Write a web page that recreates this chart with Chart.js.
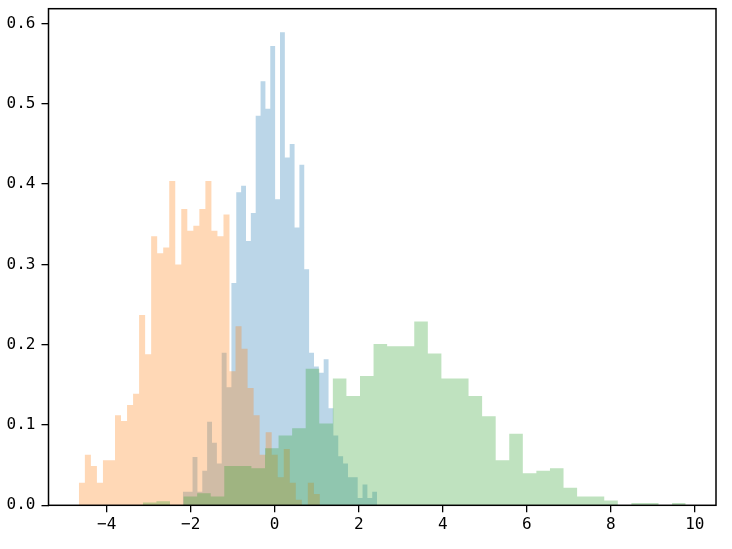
<!DOCTYPE html>
<html>
<head>
<meta charset="utf-8">
<script src="https://cdn.jsdelivr.net/npm/chart.js@4.4.1/dist/chart.umd.min.js"></script>
<style>
  html, body { margin: 0; padding: 0; background: #fff; }
  #wrap { width: 732px; height: 549px; }
</style>
</head>
<body>
<div id="wrap"><canvas id="histChart" width="732" height="549"></canvas></div>
<script>
// first and last bin edge of each histogram (40 equal bins each)
const blueRange = [-2.186, 2.438];
const orangeRange = [-4.662, 1.076];
const greenRange = [-3.138, 9.783];

// bar heights (density)
const blueHeights = [0.017, 0.017, 0.060, 0.017, 0.043, 0.104, 0.078, 0.052, 0.190, 0.147,
    0.277, 0.390, 0.398, 0.329, 0.364, 0.485, 0.528, 0.494, 0.572, 0.381,
    0.589, 0.433, 0.450, 0.346, 0.424, 0.294, 0.190, 0.173, 0.165, 0.182,
    0.121, 0.087, 0.061, 0.052, 0.035, 0.035, 0.009, 0.026, 0.009, 0.017];
const orangeHeights = [0.028, 0.063, 0.049, 0.028, 0.056, 0.056, 0.112, 0.105, 0.125, 0.139,
    0.237, 0.188, 0.335, 0.314, 0.321, 0.404, 0.300, 0.369, 0.342, 0.348,
    0.369, 0.404, 0.342, 0.335, 0.362, 0.167, 0.223, 0.195, 0.146, 0.112,
    0.063, 0.091, 0.063, 0.035, 0.070, 0.028, 0.007, 0.000, 0.028, 0.014];
const greenHeights = [0.0035, 0.005, 0.000, 0.011, 0.015, 0.011, 0.049, 0.049, 0.046, 0.071,
    0.087, 0.096, 0.170, 0.102, 0.158, 0.136, 0.161, 0.201, 0.198, 0.198,
    0.229, 0.189, 0.158, 0.158, 0.136, 0.111, 0.056, 0.089, 0.040, 0.043,
    0.046, 0.022, 0.011, 0.011, 0.006, 0.000, 0.003, 0.003, 0.000, 0.003];

const xTicks = [-4, -2, 0, 2, 4, 6, 8, 10];
const yTicks = [0, 0.1, 0.2, 0.3, 0.4, 0.5, 0.6];

// turn bins into step points for a filled stepped line
function stepPoints(range, heights) {
    const n = heights.length;
    const w = (range[1] - range[0]) / n;
    const pts = heights.map((h, i) => ({ x: range[0] + i * w, y: h }));
    pts.push({ x: range[1], y: 0 });
    return pts;
}

function histDataset(range, heights, rgb, order) {
    return {
        data: stepPoints(range, heights),
        stepped: 'before',
        fill: 'origin',
        backgroundColor: 'rgba(' + rgb + ',0.3)',
        borderColor: 'transparent',
        borderWidth: 0,
        pointRadius: 0,
        order: order
    };
}

const lo = Math.min(blueRange[0], orangeRange[0], greenRange[0]);
const hi = Math.max(blueRange[1], orangeRange[1], greenRange[1]);
const yTop = 1.05 * Math.max(...blueHeights, ...orangeHeights, ...greenHeights);

const frame = {
    id: 'frame',
    afterDraw(chart) {
        const a = chart.chartArea;
        const ctx = chart.ctx;
        ctx.save();
        ctx.strokeStyle = '#000';
        ctx.lineWidth = 1.5;
        ctx.strokeRect(a.left, a.top, a.right - a.left, a.bottom - a.top);
        ctx.restore();
    }
};

const tickFont = { family: 'DejaVu Sans Mono', size: 16 };

new Chart(document.getElementById('histChart'), {
    type: 'line',
    data: {
        datasets: [
            histDataset(blueRange, blueHeights, '31,119,180', 3),
            histDataset(orangeRange, orangeHeights, '255,127,14', 2),
            histDataset(greenRange, greenHeights, '44,160,44', 1)
        ]
    },
    options: {
        responsive: false,
        animation: false,
        layout: { padding: { top: 8.7, right: 16, left: 0, bottom: 0 } },
        plugins: { legend: { display: false }, tooltip: { enabled: false } },
        scales: {
            x: {
                type: 'linear',
                min: lo - 0.05 * (hi - lo),
                max: hi + 0.05 * (hi - lo),
                afterBuildTicks: s => { s.ticks = xTicks.map(v => ({ value: v })); },
                afterFit: s => { s.height = 43.7; s.paddingLeft = 0; s.paddingRight = 0; },
                border: { display: false },
                grid: { drawOnChartArea: false, tickLength: 7, color: '#000', lineWidth: 1.3 },
                ticks: {
                    autoSkip: false, maxRotation: 0, padding: 3, color: '#000', font: tickFont,
                    callback: v => v < 0 ? '\u2212' + (-v) : String(v)
                }
            },
            y: {
                min: 0,
                max: yTop,
                afterBuildTicks: s => { s.ticks = yTicks.map(v => ({ value: v })); },
                afterFit: s => { s.width = 48.5; s.paddingTop = 0; s.paddingBottom = 0; },
                border: { display: false },
                grid: { drawOnChartArea: false, tickLength: 7, color: '#000', lineWidth: 1.3 },
                ticks: {
                    padding: 6, color: '#000', font: tickFont,
                    callback: v => v.toFixed(1)
                }
            }
        }
    },
    plugins: [frame]
});
</script>
</body>
</html>
